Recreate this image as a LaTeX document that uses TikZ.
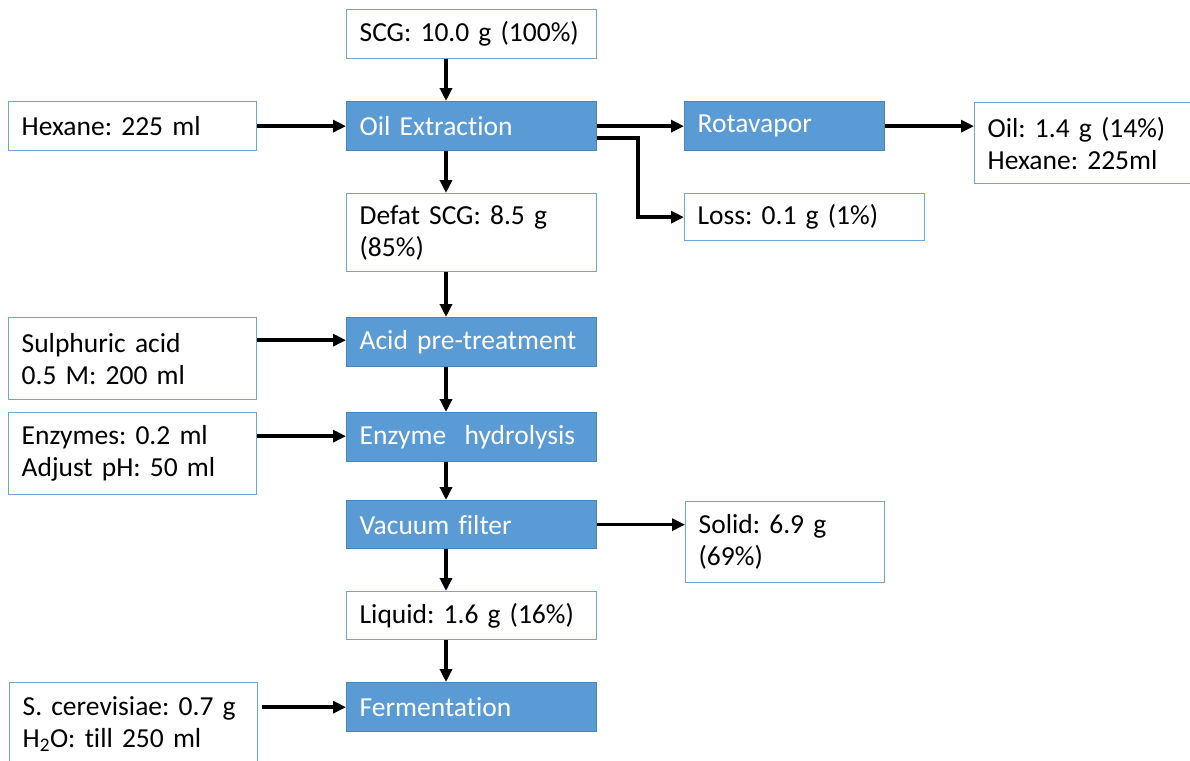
\documentclass[tikz,border=0pt]{standalone}
\usepackage{fontspec}
\setmainfont{Carlito}[Ligatures=NoCommon,WordSpace=0.8]
\frenchspacing
\usetikzlibrary{arrows.meta}
\definecolor{procblue}{HTML}{5B9BD5}
\definecolor{procedge}{HTML}{4A86BE}
\definecolor{boxedge}{HTML}{6FA6DA}
\begin{document}
\begin{tikzpicture}[x=1pt,y=-1pt,
  every node/.style={font=\fontsize{27.5}{32}\selectfont},
  whitebox/.style={draw=boxedge,line width=1.3pt,fill=white,anchor=north west,
     inner xsep=13pt,inner ysep=0pt,align=left},
  procbox/.style={draw=procedge,line width=1.3pt,fill=procblue,text=white,anchor=north west,
     inner xsep=13pt,inner ysep=0pt,align=left},
  arr/.style={line width=3.4pt,-{Triangle[length=13pt,width=12pt]}}]
\clip (0,0) rectangle (1190,760);
\fill[white] (0,0) rectangle (1190,760);
\node[whitebox,minimum width=250pt,minimum height=49pt,text width=224pt] (scg) at (346,9) {SCG: 10.0 g (100\%)};
\node[procbox,minimum width=250pt,minimum height=49pt,text width=224pt] (oil) at (346,101) {Oil Extraction};
\node[whitebox,minimum width=248pt,minimum height=49pt,text width=222pt] (hex) at (8,101) {Hexane: 225 ml};
\node[procbox,minimum width=200pt,minimum height=49pt,text width=174pt] (rota) at (684,101) {Rotavapor};
\node[whitebox,minimum width=240pt,minimum height=81pt,text width=214pt] (oilout) at (974,102) {Oil: 1.4 g (14\%)\\Hexane: 225ml};
\node[whitebox,minimum width=250pt,minimum height=78pt,text width=224pt] (defat) at (346,193) {Defat SCG: 8.5 g\\(85\%)};
\node[whitebox,minimum width=240pt,minimum height=47pt,text width=214pt] (loss) at (684,193) {Loss: 0.1 g (1\%)};
\node[whitebox,minimum width=248pt,minimum height=82pt,text width=222pt] (sulph) at (8,317) {Sulphuric acid\\0.5 M: 200 ml};
\node[procbox,minimum width=250pt,minimum height=49pt,text width=224pt] (acid) at (346,317) {Acid pre-treatment};
\node[whitebox,minimum width=248pt,minimum height=82pt,text width=222pt] (enzin) at (8,412) {Enzymes: 0.2 ml\\Adjust pH: 50 ml};
\node[procbox,minimum width=250pt,minimum height=49pt,text width=224pt] (enz) at (346,412) {Enzyme\ \ hydrolysis};
\node[procbox,minimum width=250pt,minimum height=48pt,text width=224pt] (vac) at (346,500) {Vacuum filter};
\node[whitebox,minimum width=199pt,minimum height=81pt,text width=173pt] (solid) at (685,501) {Solid: 6.9 g\\(69\%)};
\node[whitebox,minimum width=250pt,minimum height=48pt,text width=224pt] (liq) at (346,591) {Liquid: 1.6 g (16\%)};
\node[procbox,minimum width=250pt,minimum height=49pt,text width=224pt] (ferm) at (346,682) {Fermentation};
\node[whitebox,minimum width=248pt,minimum height=82pt,text width=222pt] (scer) at (9,682) {S. cerevisiae: 0.7 g\\H\textsubscript{2}O: till 250 ml};
\coordinate (ax) at (446,0);
\coordinate (lb) at (638,138);
\draw[arr] (scg.south -| ax) -- (oil.north -| ax);
\draw[arr] (hex.east) -- (oil.west);
\draw[arr] (oil.east) -- (rota.west);
\draw[arr] (oil.east |- lb) -- (lb) |- (loss.west);
\draw[arr] (rota.east) -- (rota.east -| oilout.west);
\draw[arr] (oil.south -| ax) -- (defat.north -| ax);
\draw[arr] (defat.south -| ax) -- (acid.north -| ax);
\draw[arr] ([yshift=2pt]acid.west -| sulph.east) -- ([yshift=2pt]acid.west);
\draw[arr] (acid.south -| ax) -- (enz.north -| ax);
\draw[arr] ([yshift=1pt]enz.west -| enzin.east) -- ([yshift=1pt]enz.west);
\draw[arr] (enz.south -| ax) -- (vac.north -| ax);
\draw[arr] (vac.east) -- (vac.east -| solid.west);
\draw[arr] (vac.south -| ax) -- (liq.north -| ax);
\draw[arr] (liq.south -| ax) -- (ferm.north -| ax);
\draw[arr] ([xshift=4pt]ferm.west -| scer.east) -- (ferm.west);
\end{tikzpicture}
\end{document}
